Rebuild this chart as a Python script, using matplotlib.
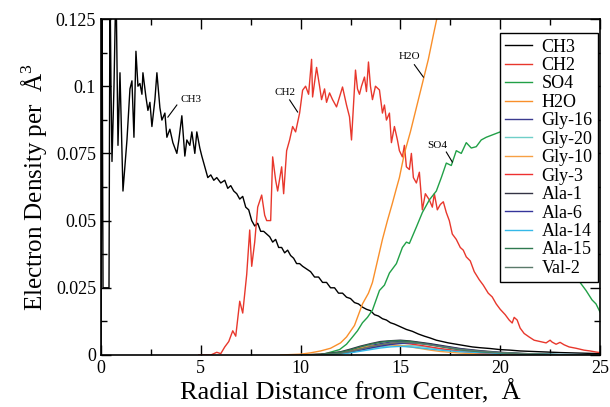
import matplotlib
matplotlib.use("Agg")
import matplotlib.pyplot as plt
from matplotlib.ticker import MultipleLocator

plt.rcParams["font.family"] = ["Liberation Serif", "DejaVu Serif"]
plt.rcParams["mathtext.fontset"] = "custom"
plt.rcParams["mathtext.rm"] = "Liberation Serif"

# CH3 (black)
ch3_x = [0.0, 0.05, 0.1, 0.4, 0.45, 0.5, 0.55, 0.65, 0.75, 0.85, 0.95, 1.1, 1.3, 1.45,
         1.55, 1.65, 1.75, 1.85, 1.95, 2.05, 2.1, 2.25, 2.35, 2.45, 2.55, 2.7, 2.8, 2.95,
         3.05, 3.2, 3.3, 3.45, 3.6, 3.7, 3.8, 3.9, 4.05, 4.2, 4.3, 4.45, 4.55, 4.7, 4.8,
         4.95, 5.05, 5.2, 5.35, 5.5, 5.65, 5.8, 6.0, 6.2, 6.35, 6.5, 6.65, 6.8, 6.95, 7.1,
         7.25, 7.4, 7.55, 7.7, 7.85, 8.0, 8.15, 8.3, 8.45, 8.6, 8.75, 8.9, 9.05, 9.2, 9.35,
         9.5, 9.65, 9.8, 9.95, 10.1, 10.3, 10.5, 10.7, 10.9, 11.1, 11.3, 11.5, 11.7, 11.9,
         12.1, 12.3, 12.5, 12.7, 12.9, 13.1, 13.3, 13.5, 13.7, 13.9, 14.1, 14.3, 14.5, 14.7,
         15.0, 15.3, 15.6, 15.9, 16.2, 16.5, 16.8, 17.1, 17.4, 17.8, 18.2, 18.6, 19.0, 19.5,
         20.0, 20.5, 21.0, 22.0, 23.0, 24.0, 25.0]
ch3_y = [0.0, 0.14, 0.025, 0.025, 0.14, 0.1, 0.072, 0.1, 0.14, 0.078, 0.105, 0.061, 0.08, 0.099,
         0.102, 0.081, 0.113, 0.1, 0.101, 0.097, 0.105, 0.096, 0.091, 0.094, 0.085, 0.095, 0.105, 0.092,
         0.0874, 0.09, 0.081, 0.084, 0.079, 0.077, 0.075, 0.08, 0.089, 0.074, 0.08, 0.078, 0.083, 0.075, 0.083,
         0.077, 0.074, 0.07, 0.066, 0.067, 0.065, 0.066, 0.064, 0.065, 0.062, 0.063, 0.061, 0.06, 0.058, 0.059,
         0.055, 0.054, 0.05, 0.048, 0.049, 0.046, 0.046, 0.045, 0.044, 0.042, 0.043, 0.04, 0.04, 0.038, 0.039,
         0.037, 0.036, 0.034, 0.034, 0.033, 0.032, 0.031, 0.029, 0.029, 0.027, 0.027, 0.025, 0.025, 0.023,
         0.023, 0.0215, 0.021, 0.0195, 0.019, 0.0178, 0.017, 0.0165, 0.015, 0.0145, 0.0135, 0.013, 0.012, 0.0115,
         0.0105, 0.0095, 0.0088, 0.0078, 0.007, 0.0063, 0.0055, 0.005, 0.0045, 0.004, 0.0035, 0.003, 0.0027, 0.0024,
         0.002, 0.0018, 0.0015, 0.0012, 0.0009, 0.0007, 0.0005]

# CH2 (red)
ch2_x = [4.9, 5.5, 5.8, 6.0, 6.2, 6.4, 6.6, 6.75, 6.95, 7.1, 7.3, 7.45, 7.55, 7.7, 7.85, 8.05,
         8.2, 8.3, 8.5, 8.6, 8.75, 8.85, 9.05, 9.15, 9.3, 9.45, 9.6, 9.75, 9.95, 10.1, 10.25,
         10.4, 10.55, 10.6, 10.8, 10.95, 11.05, 11.2, 11.3, 11.45, 11.6, 11.8, 11.95, 12.1, 12.3,
         12.45, 12.55, 12.75, 12.85, 12.95, 13.05, 13.2, 13.3, 13.4, 13.5, 13.6, 13.75, 13.95, 14.1,
         14.2, 14.3, 14.45, 14.55, 14.7, 14.85, 14.95, 15.1, 15.2, 15.3, 15.45, 15.55, 15.65, 15.8,
         15.95, 16.1, 16.25, 16.45, 16.6, 16.7, 16.85, 17.0, 17.15, 17.3, 17.45, 17.6, 17.8, 18.0,
         18.15, 18.3, 18.5, 18.7, 18.95, 19.15, 19.4, 19.6, 19.8, 20.0, 20.25, 20.45, 20.6, 20.7,
         20.85, 21.0, 21.2, 21.45, 21.7, 22.0, 22.3, 22.5, 22.6, 22.8, 23.0, 23.2, 23.45, 23.8,
         24.2, 24.5, 24.8, 25.0]
ch2_y = [0.0, 0.0, 0.001, 0.0005, 0.003, 0.005, 0.009, 0.007, 0.02, 0.0156, 0.03, 0.0465, 0.033, 0.042, 0.055, 0.0595,
         0.052, 0.05, 0.05, 0.0737, 0.065, 0.061, 0.07, 0.06, 0.076, 0.08, 0.085, 0.083, 0.09, 0.0985, 0.1,
         0.097, 0.11, 0.096, 0.107, 0.1, 0.095, 0.099, 0.094, 0.0975, 0.095, 0.0923, 0.096, 0.0997, 0.093,
         0.0886, 0.08, 0.106, 0.099, 0.097, 0.1, 0.1034, 0.098, 0.109, 0.1, 0.095, 0.1, 0.0986, 0.09,
         0.093, 0.0874, 0.09, 0.079, 0.085, 0.08, 0.076, 0.0737, 0.078, 0.07, 0.069, 0.075, 0.066, 0.064,
         0.068, 0.054, 0.06, 0.0577, 0.055, 0.06, 0.054, 0.056, 0.057, 0.053, 0.05, 0.045, 0.043, 0.04,
         0.039, 0.0365, 0.035, 0.031, 0.028, 0.026, 0.023, 0.0216, 0.019, 0.017, 0.015, 0.013, 0.0119, 0.014,
         0.013, 0.01, 0.008, 0.0067, 0.0055, 0.005, 0.0045, 0.0055, 0.0048, 0.004, 0.0047, 0.0038, 0.003, 0.0025,
         0.0018, 0.0015, 0.0011, 0.0009]

# SO4 (green)
so4_x = [11.0, 11.95, 12.3, 12.6, 12.85, 13.1, 13.35, 13.6, 13.95, 14.2, 14.45, 14.8, 15.1, 15.3,
         15.45, 15.8, 16.1, 16.45, 16.8, 17.05, 17.3, 17.55, 17.8, 18.05, 18.3, 18.55, 18.8, 19.05,
         19.3, 20.0, 21.0, 22.0, 23.0, 23.7, 24.0, 24.3, 24.6, 24.8, 25.0]
so4_y = [0.0, 0.002, 0.004, 0.0067, 0.009, 0.012, 0.014, 0.0167, 0.024, 0.026, 0.0305, 0.034, 0.04, 0.042,
         0.0415, 0.0476, 0.053, 0.0577, 0.061, 0.066, 0.0714, 0.0705, 0.076, 0.075, 0.079, 0.077, 0.0775, 0.08,
         0.081, 0.083, 0.08, 0.07, 0.05, 0.03, 0.027, 0.024, 0.0205, 0.019, 0.016]

# H2O (orange)
h2o_x = [9.0, 10.0, 10.5, 11.0, 11.5, 12.0, 12.3, 12.7, 13.1, 13.4, 13.6, 13.85, 14.1, 14.35,
         14.6, 14.8, 14.95, 15.2, 15.5, 15.8, 16.1, 16.4, 16.65, 16.85, 17.1]
h2o_y = [0.0, 0.0003, 0.0008, 0.0015, 0.0025, 0.0045, 0.0067, 0.011, 0.019, 0.023, 0.027, 0.035, 0.043, 0.05,
         0.0565, 0.062, 0.066, 0.075, 0.083, 0.092, 0.101, 0.11, 0.119, 0.126, 0.135]

# residue curves (small, near baseline)
res_x = [10, 11, 12, 12.5, 13, 13.5, 14, 14.5, 15, 15.5, 16, 16.5, 17, 17.5, 18, 19, 20, 21, 22, 23, 25]
gly16 = [0, 0.0002, 0.0008, 0.0015, 0.0025, 0.0035, 0.0042, 0.0048, 0.005, 0.0049, 0.0045, 0.004, 0.0033, 0.0027, 0.002, 0.0012, 0.0007, 0.0004, 0.0002, 0.0001, 0]
gly20 = [0, 0.0001, 0.0005, 0.001, 0.0017, 0.0024, 0.003, 0.0034, 0.0036, 0.0035, 0.0032, 0.0027, 0.0022, 0.0018, 0.0014, 0.0009, 0.0006, 0.0004, 0.0002, 0.0001, 0]
gly10 = [0, 0.0003, 0.001, 0.0018, 0.0027, 0.0033, 0.0036, 0.0038, 0.0035, 0.003, 0.0024, 0.0018, 0.0013, 0.001, 0.0007, 0.0004, 0.0002, 0.0001, 0, 0, 0]
gly3 = [0, 0.0001, 0.0007, 0.0014, 0.0022, 0.003, 0.0037, 0.0042, 0.0045, 0.0041, 0.0036, 0.003, 0.0024, 0.0019, 0.0014, 0.0008, 0.0005, 0.0003, 0.0001, 0, 0]
ala1 = [0, 0.0003, 0.0012, 0.0022, 0.0033, 0.0042, 0.005, 0.0053, 0.0055, 0.0052, 0.0047, 0.0042, 0.0036, 0.003, 0.0024, 0.0016, 0.001, 0.0006, 0.0003, 0.0001, 0]
ala6 = [0, 0.0001, 0.0005, 0.001, 0.0018, 0.0026, 0.0033, 0.0039, 0.0043, 0.0045, 0.0043, 0.0039, 0.0033, 0.0028, 0.0022, 0.0014, 0.0009, 0.0005, 0.0002, 0.0001, 0]
ala14 = [0, 0, 0.0004, 0.0008, 0.0014, 0.002, 0.0026, 0.003, 0.0032, 0.003, 0.0026, 0.0022, 0.0018, 0.0015, 0.0012, 0.0009, 0.0006, 0.0004, 0.0003, 0.0002, 0.0001]
ala15 = [0, 0.0002, 0.001, 0.0019, 0.003, 0.004, 0.0047, 0.0052, 0.0053, 0.005, 0.0044, 0.0038, 0.0031, 0.0025, 0.0019, 0.0012, 0.0008, 0.0005, 0.0003, 0.0001, 0]
val2 = [0, 0.0001, 0.0006, 0.0013, 0.0022, 0.0031, 0.0038, 0.0044, 0.0047, 0.0046, 0.0042, 0.0037, 0.0032, 0.0027, 0.0021, 0.0014, 0.0009, 0.0006, 0.0003, 0.0001, 0]

xticks = [0, 5, 10, 15, 20, 25]
yticks = [0, 0.025, 0.05, 0.075, 0.1, 0.125]
ytick_labels = ["0", "0.025", "0.05", "0.075", "0.1", "0.125"]

fig = plt.figure(figsize=(6.1, 4.07), dpi=100)
ax = fig.add_axes([0.1656, 0.1278, 0.818, 0.8255])

lw = 1.0
ax.plot(ch3_x, ch3_y, color="black", lw=lw, label="CH3")
ax.plot(ch2_x, ch2_y, color="#e8372c", lw=lw, label="CH2")
ax.plot(so4_x, so4_y, color="#21a047", lw=lw, label="SO4")
ax.plot(h2o_x, h2o_y, color="#f98f2a", lw=lw, label="H2O")
ax.plot(res_x, gly16, color="#3b3b8f", lw=lw, label="Gly-16")
ax.plot(res_x, gly20, color="#6fcfc8", lw=lw, label="Gly-20")
ax.plot(res_x, gly10, color="#f7a044", lw=lw, label="Gly-10")
ax.plot(res_x, gly3, color="#ee3030", lw=lw, label="Gly-3")
ax.plot(res_x, ala1, color="#333344", lw=lw, label="Ala-1")
ax.plot(res_x, ala6, color="#34349a", lw=lw, label="Ala-6")
ax.plot(res_x, ala14, color="#34b8e8", lw=lw, label="Ala-14")
ax.plot(res_x, ala15, color="#2f7a50", lw=lw, label="Ala-15")
ax.plot(res_x, val2, color="#5a7a6a", lw=lw, label="Val-2")

# curve labels with leader lines
notes = [("CH3", 4.5, 0.0949, (3.8, 3.35), (0.093, 0.0885)),
         ("CH2", 9.2, 0.0978, (9.45, 9.85), (0.0949, 0.0904)),
         ("H2O", 15.45, 0.111, (15.7, 16.15), (0.108, 0.1034)),
         ("SO4", 16.85, 0.078, (17.3, 17.6), (0.0755, 0.0718))]
for txt, tx, ty, lx, ly in notes:
    ax.text(tx, ty, txt, fontsize=8, ha="center", va="center")
    ax.plot(lx, ly, color="black", lw=0.8)

ax.set_xlim(0, 25)
ax.set_ylim(0, 0.125)
ax.set_xticks(xticks)
ax.set_yticks(yticks)
ax.set_yticklabels(ytick_labels)
ax.xaxis.set_minor_locator(MultipleLocator(2.5))
ax.yaxis.set_minor_locator(MultipleLocator(0.0125))
ax.tick_params(which="both", direction="in", top=True, right=True, labelsize=13, width=1.0)
ax.tick_params(which="major", length=7)
ax.tick_params(which="minor", length=4)
for sp in ax.spines.values():
    sp.set_linewidth(1.2)

ax.set_xlabel("Radial Distance from Center,  Å", fontsize=19, labelpad=2)
ax.set_ylabel("Electron Density per  Å$^3$", fontsize=18)

leg = ax.legend(loc="upper right", bbox_to_anchor=(0.996, 0.958), borderaxespad=0,
                fontsize=13, labelspacing=0.08, handlelength=1.5, handletextpad=0.5,
                borderpad=0.3, frameon=True, fancybox=False, framealpha=1)
leg.get_frame().set_edgecolor("black")
leg.get_frame().set_linewidth(1.0)

fig.savefig("out.png", dpi=100)
